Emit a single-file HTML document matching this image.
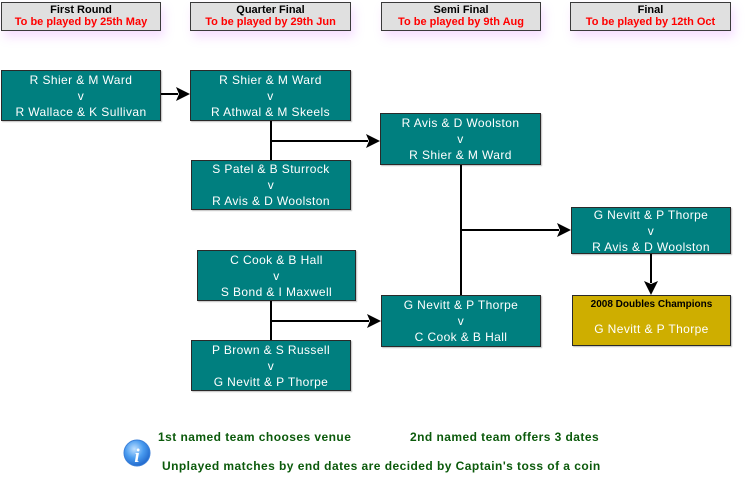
<!DOCTYPE html>
<html><head><meta charset="utf-8"><style>
html,body{margin:0;padding:0;background:#fff;}
body{width:746px;height:477px;position:relative;overflow:hidden;font-family:"Liberation Sans",Arial,sans-serif;}
.h{position:absolute;box-sizing:border-box;background:#e0e0e0;border:1px solid #3a3a3a;text-align:center;font-size:11px;font-weight:bold;line-height:12px;padding-top:1px;box-shadow:3px 6px 10px rgba(220,120,255,0.25);}
.h .r{color:#ff0000;}
.b{position:absolute;box-sizing:border-box;background:#007f7f;border:1px solid #2a2a2a;color:#fff;font-size:12px;letter-spacing:0.4px;line-height:16px;text-align:center;display:flex;flex-direction:column;justify-content:center;box-shadow:1px 1px 1px rgba(0,0,0,0.25);}
.g{position:absolute;box-sizing:border-box;background:#ceae00;border:1px solid #2a2a2a;text-align:center;box-shadow:1px 1px 1px rgba(0,0,0,0.25);}
.t{position:absolute;color:#0b5a0b;font-weight:bold;font-size:12px;letter-spacing:0.45px;white-space:nowrap;line-height:14px;}
svg{position:absolute;left:0;top:0;}
</style></head><body>
<div class="h" style="left:1px;top:2px;width:160px;height:29px;">First Round<br><span class="r">To be played by 25th May</span></div>
<div class="h" style="left:190px;top:2px;width:161px;height:29px;">Quarter Final<br><span class="r">To be played by 29th Jun</span></div>
<div class="h" style="left:381px;top:2px;width:160px;height:29px;">Semi Final<br><span class="r">To be played by 9th Aug</span></div>
<div class="h" style="left:570px;top:2px;width:161px;height:29px;">Final<br><span class="r">To be played by 12th Oct</span></div>

<svg width="746" height="477" viewBox="0 0 746 477">
<g stroke="#000" stroke-width="2" fill="none">
<line x1="161" y1="94" x2="178" y2="94"/>
<line x1="271" y1="120" x2="271" y2="160"/>
<line x1="272" y1="141" x2="368" y2="141"/>
<line x1="271" y1="300" x2="271" y2="340"/>
<line x1="272" y1="321" x2="369" y2="321"/>
<line x1="461" y1="165" x2="461" y2="295"/>
<line x1="461" y1="230" x2="559" y2="230"/>
<line x1="651" y1="254" x2="651" y2="283"/>
</g>
<g fill="#000">
<polygon points="190,94 176,87 179,94 176,101"/>
<polygon points="380,141 366,134 369,141 366,148"/>
<polygon points="381,321 367,314 370,321 367,328"/>
<polygon points="571,230 557,223 560,230 557,237"/>
<polygon points="651,295 644,281 651,284 658,281"/>
</g>
<defs><radialGradient id="ig" cx="0.4" cy="0.35" r="0.7"><stop offset="0" stop-color="#bfe0ff"/><stop offset="0.5" stop-color="#4a9cf0"/><stop offset="1" stop-color="#1d63c8"/></radialGradient></defs>
<circle cx="137" cy="453" r="13" fill="url(#ig)" stroke="#3a7fd8" stroke-width="1"/>
<text x="137" y="462" text-anchor="middle" font-family="Liberation Serif,serif" font-style="italic" font-weight="bold" font-size="19" fill="#fff">i</text>
</svg>

<div class="b" style="left:1px;top:70px;width:160px;height:51px;">R Shier &amp; M Ward<br>v<br>R Wallace &amp; K Sullivan</div>
<div class="b" style="left:190px;top:70px;width:161px;height:51px;">R Shier &amp; M Ward<br>v<br>R Athwal &amp; M Skeels</div>
<div class="b" style="left:191px;top:160px;width:160px;height:50px;">S Patel &amp; B Sturrock<br>v<br>R Avis &amp; D Woolston</div>
<div class="b" style="left:197px;top:250px;width:159px;height:51px;">C Cook &amp; B Hall<br>v<br>S Bond &amp; I Maxwell</div>
<div class="b" style="left:191px;top:340px;width:160px;height:51px;">P Brown &amp; S Russell<br>v<br>G Nevitt &amp; P Thorpe</div>
<div class="b" style="left:380px;top:113px;width:161px;height:52px;">R Avis &amp; D Woolston<br>v<br>R Shier &amp; M Ward</div>
<div class="b" style="left:381px;top:295px;width:160px;height:52px;">G Nevitt &amp; P Thorpe<br>v<br>C Cook &amp; B Hall</div>
<div class="b" style="left:571px;top:207px;width:160px;height:47px;">G Nevitt &amp; P Thorpe<br>v<br>R Avis &amp; D Woolston</div>
<div class="g" style="left:572px;top:295px;width:159px;height:51px;">
<div style="font-size:10px;font-weight:bold;color:#000;margin-top:3px;line-height:12px;">2008 Doubles Champions</div>
<div style="font-size:12px;color:#fff;letter-spacing:0.4px;margin-top:10px;line-height:16px;">G Nevitt &amp; P Thorpe</div>
</div>

<div class="t" style="left:158px;top:430px;">1st named team chooses venue</div>
<div class="t" style="left:410px;top:430px;">2nd named team offers 3 dates</div>
<div class="t" style="left:162px;top:459px;">Unplayed matches by end dates are decided by Captain's toss of a coin</div>
</body></html>
